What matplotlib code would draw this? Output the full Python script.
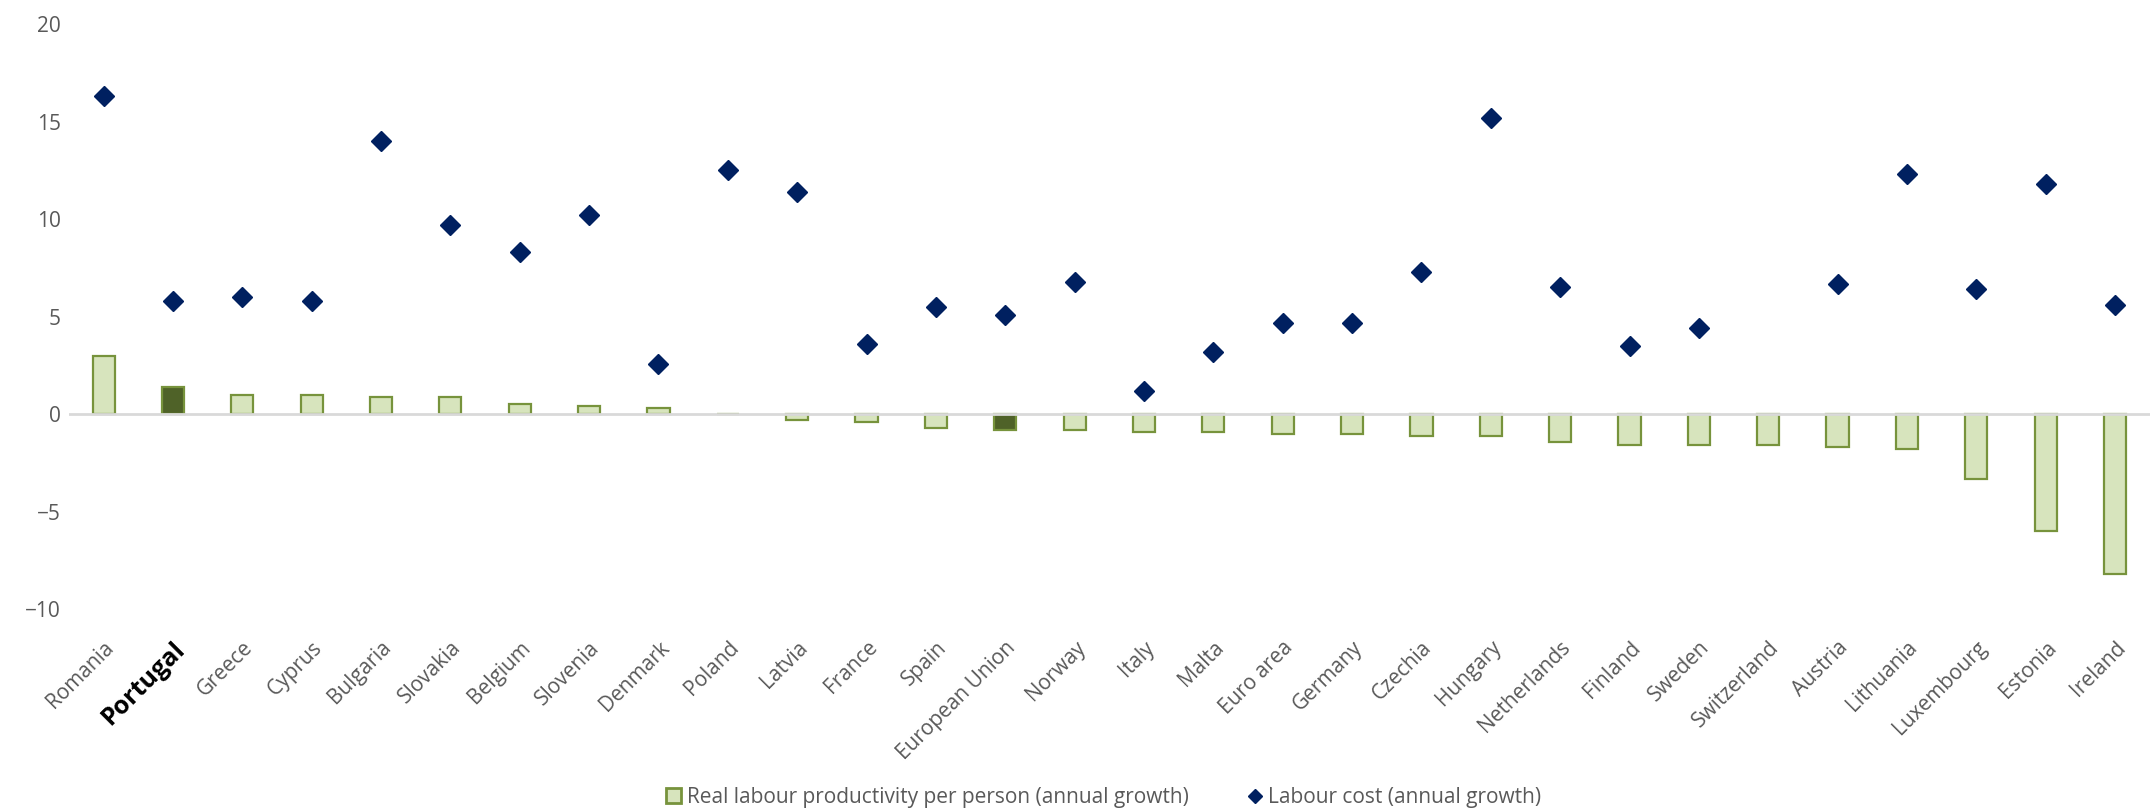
import matplotlib.pyplot as plt
from matplotlib.lines import Line2D
from matplotlib.patches import Patch

countries = ["Romania", "Portugal", "Greece", "Cyprus", "Bulgaria", "Slovakia",
             "Belgium", "Slovenia", "Denmark", "Poland", "Latvia", "France",
             "Spain", "European Union", "Norway", "Italy", "Malta", "Euro area",
             "Germany", "Czechia", "Hungary", "Netherlands", "Finland", "Sweden",
             "Switzerland", "Austria", "Lithuania", "Luxembourg", "Estonia",
             "Ireland"]
productivity = [3.0, 1.4, 1.0, 1.0, 0.9, 0.9, 0.5, 0.4, 0.3, 0.0, -0.3, -0.4,
                -0.7, -0.8, -0.8, -0.9, -0.9, -1.0, -1.0, -1.1, -1.1, -1.4,
                -1.6, -1.6, -1.6, -1.7, -1.8, -3.3, -6.0, -8.2]
labour_cost = [16.3, 5.8, 6.0, 5.8, 14.0, 9.7, 8.3, 10.2, 2.6, 12.5, 11.4, 3.6,
               5.5, 5.1, 6.8, 1.2, 3.2, 4.7, 4.7, 7.3, 15.2, 6.5, 3.5, 4.4,
               None, 6.7, 12.3, 6.4, 11.8, 5.6]
highlight = ["Portugal", "European Union"]

LIGHT = "#d7e4bd"
DARK = "#4f6228"
EDGE = "#77933c"
NAVY = "#002060"
GREY = "#595959"

plt.rcParams["font.family"] = ["Open Sans", "DejaVu Sans"]

fig = plt.figure(figsize=(21.54, 8.09), dpi=100)
ax = fig.add_axes([0.032, 0.247, 0.966, 0.723])

x = list(range(len(countries)))
faces = [DARK if c in highlight else LIGHT for c in countries]
ax.bar(x, productivity, width=0.32, color=faces, edgecolor=EDGE, lw=1.6, zorder=2)
ax.axhline(0, color="#d9d9d9", lw=2, zorder=2.5)
lx = [i for i, v in zip(x, labour_cost) if v is not None]
ly = [v for v in labour_cost if v is not None]
ax.plot(lx, ly, ls="none", marker="D", ms=10.5, color=NAVY, zorder=3)

ax.set_xlim(-0.5, len(countries) - 0.5)
ax.set_ylim(-10, 20)
ax.set_yticks(range(-10, 21, 5))
for s in ax.spines.values():
    s.set_visible(False)
ax.tick_params(length=0)
ax.tick_params(axis="y", labelsize=15, labelcolor=GREY, pad=6)

ax.set_xticks(x)
ax.set_xticklabels(countries, rotation=45, ha="right", va="top",
                   rotation_mode="anchor", fontsize=15, color=GREY)
ax.tick_params(axis="x", pad=20)
for t in ax.get_xticklabels():
    if t.get_text() == "Portugal":
        t.set_color("black")
        t.set_fontweight("bold")
        t.set_fontsize(18)

handles = [Patch(facecolor=LIGHT, edgecolor=EDGE, lw=2),
           Line2D([], [], ls="none", marker="D", ms=7.5, color=NAVY)]
labels = ["Real labour productivity per person (annual growth)",
          "Labour cost (annual growth)"]
fig.legend(handles, labels, loc="lower center", bbox_to_anchor=(0.5125, -0.022),
           ncol=2, frameon=False, prop={"size": 15},
           labelcolor=GREY, handlelength=0.7, handletextpad=0.3,
           columnspacing=2.8)

fig.savefig("out.png", dpi=100)
